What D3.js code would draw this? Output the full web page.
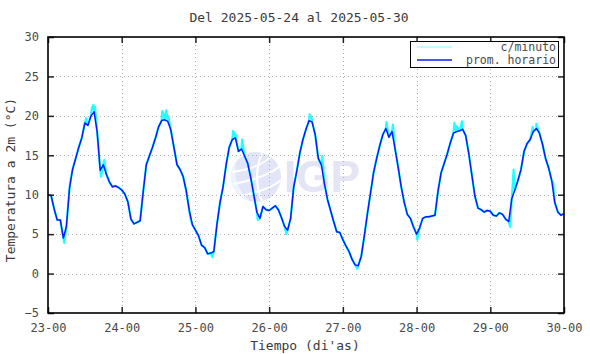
<!DOCTYPE html>
<html><head><meta charset="utf-8">
<script src="https://cdn.jsdelivr.net/npm/d3@7"></script>
<style>
html,body{margin:0;padding:0;background:#fff;}
svg text{font-family:"DejaVu Sans Mono","Liberation Mono",monospace;fill:#3a3a3a;}
</style></head>
<body><svg id="c" width="590" height="354"></svg>
<script>
const title = "Del 2025-05-24 al 2025-05-30";
const xLabel = "Tiempo (di'as)";
const yLabel = "Temperatura a 2m (°C)";
const dayLabels = ["23-00","24-00","25-00","26-00","27-00","28-00","29-00","30-00"];
const yTicks = [-5,0,5,10,15,20,25,30];
const seriesNames = ["c/minuto","prom. horario"];
// hourly average, one value per hour from 23-00 (h=0) to 30-00 (h=168)
const hourly = [
10.0,9.9,8.2,6.8,6.8,4.5,6.0,10.8,13.2,14.6,16.0,17.2,19.1,18.8,20.0,20.5,18.0,13.1,13.8,12.6,11.6,11.0,11.1,10.9,
10.6,10.1,9.1,6.9,6.3,6.5,6.7,10.4,13.8,14.9,16.0,17.2,18.6,19.4,19.5,19.3,18.2,16.0,13.8,13.2,12.3,10.5,8.0,6.2,
5.5,4.8,3.6,3.3,2.5,2.6,2.8,6.2,9.0,11.0,13.8,16.0,17.0,17.2,15.5,15.8,14.9,14.0,12.2,10.0,7.8,7.0,8.5,8.1,
8.0,8.3,8.6,8.1,7.1,6.0,5.5,7.0,11.0,13.0,15.3,17.0,18.3,19.4,19.2,17.6,14.6,13.8,11.4,9.4,8.0,6.6,5.3,5.2,
4.3,3.5,2.8,1.8,1.1,1.0,2.2,4.8,7.6,10.2,12.8,14.6,16.2,17.6,18.4,17.3,18.0,15.8,13.5,11.0,9.0,7.5,7.0,5.9,
5.0,5.8,7.0,7.2,7.2,7.3,7.4,10.5,12.8,14.0,15.2,16.6,17.8,18.0,18.1,18.3,17.5,15.2,12.5,9.8,8.3,8.1,7.8,8.0,
7.9,7.4,7.3,7.7,7.5,6.9,6.6,9.5,10.6,11.8,13.2,15.5,16.5,17.0,18.0,18.4,17.8,16.4,14.6,13.4,11.8,9.0,7.8,7.4,
7.6];
// per-minute excursions, [hour, value]
const minuteSpikes = [
[5.3,3.9],[7.4,12.0],[12.4,19.7],[14.3,21.0],[14.8,21.4],[15.3,21.1],[17.3,12.3],[18.3,14.4],
[37.2,20.6],[37.8,20.0],[38.5,20.7],[39.2,19.9],[46.5,6.8],[53.5,2.1],
[60.3,18.1],[61.1,17.6],[63.2,17.0],[68.3,6.8],[77.6,5.0],
[85.2,20.2],[85.8,19.8],[89.3,14.9],[100.6,0.6],
[110.2,19.2],[112.3,18.9],[120.2,4.3],
[132.3,19.1],[133.0,18.7],[134.8,19.3],[150.5,5.9],[151.6,13.2],
[157.8,18.6],[159.0,19.0],[164.5,11.5]
];

const W = 590, H = 354;
const m = {l:48, r:564, t:37, b:313};
const svg = d3.select("#c");
const x = d3.scaleLinear().domain([0,168]).range([m.l,m.r]);
const y = d3.scaleLinear().domain([-5,30]).range([m.b,m.t]);
const dayTicks = dayLabels.map((d,i)=>i*24);

// watermark
const wm = svg.append("g");
wm.append("circle").attr("cx",256).attr("cy",177).attr("r",25).attr("fill","#e2e5f7");
wm.append("path").attr("d","M236,162 A25,25 0 0,0 250,201 A40,40 0 0,1 236,162 Z").attr("fill","#eef4fd");
wm.append("path").attr("d","M232,172 Q262,168 272,155").attr("fill","none").attr("stroke","#fff").attr("stroke-width",2);
wm.append("path").attr("d","M233,184 Q266,178 280,166").attr("fill","none").attr("stroke","#fff").attr("stroke-width",2);
wm.append("path").attr("d","M240,196 Q270,190 281,180").attr("fill","none").attr("stroke","#fff").attr("stroke-width",2);
wm.append("path").attr("d","M262,153 Q252,177 262,201").attr("fill","none").attr("stroke","#fff").attr("stroke-width",2);
wm.append("text").attr("x",284).attr("y",192).text("IGP")
  .style("font-family","'Liberation Sans',Arial,sans-serif").style("font-weight","bold")
  .style("font-size","44px").style("fill","#e4e4f5");

// grid
const grid = svg.append("g").attr("stroke","#b0b0b0").attr("stroke-width",1).attr("stroke-dasharray","1,3");
dayTicks.slice(1,-1).forEach(t=>grid.append("line").attr("x1",Math.round(x(t))+0.5).attr("x2",Math.round(x(t))+0.5).attr("y1",m.t).attr("y2",m.b));
yTicks.slice(1,-1).forEach(t=>grid.append("line").attr("y1",Math.round(y(t))+0.5).attr("y2",Math.round(y(t))+0.5).attr("x1",m.l).attr("x2",m.r));

// series
const hourlyPts = hourly.map((v,i)=>[i,v]);
const minutePts = hourlyPts.concat(minuteSpikes).sort((a,b)=>a[0]-b[0]);
const line = d3.line().x(d=>x(d[0])).y(d=>y(d[1]));
svg.append("path").datum(minutePts).attr("d",line).attr("fill","none").attr("stroke","#22ffff").attr("stroke-width",2.2).attr("stroke-linejoin","round");
svg.append("path").datum(hourlyPts).attr("d",line).attr("fill","none").attr("stroke","#0a1aff").attr("stroke-width",1.5).attr("stroke-linejoin","round");

// axes (gnuplot style: inward ticks, mirrored)
const xb = d3.axisBottom(x).tickValues(dayTicks).tickFormat((d,i)=>dayLabels[i]).tickSizeInner(-6).tickSizeOuter(0).tickPadding(10);
const xt = d3.axisTop(x).tickValues(dayTicks).tickFormat("").tickSizeInner(-6).tickSizeOuter(0);
const yl = d3.axisLeft(y).tickValues(yTicks).tickSizeInner(-6).tickSizeOuter(0).tickPadding(9);
const yr = d3.axisRight(y).tickValues(yTicks).tickFormat("").tickSizeInner(-6).tickSizeOuter(0);
function style(g){g.select(".domain").remove();g.selectAll(".tick line").attr("stroke","#222").attr("stroke-width",1.5);
  g.selectAll("text").style("font-size","12px").style("fill","#4a4a4a").style("font-family","'DejaVu Sans Mono',monospace");}
svg.append("g").attr("transform",`translate(0,${m.b})`).call(xb).call(style);
svg.append("g").attr("transform",`translate(0,${m.t})`).call(xt).call(style);
svg.append("g").attr("transform",`translate(${m.l},0)`).call(yl).call(style);
svg.append("g").attr("transform",`translate(${m.r},0)`).call(yr).call(style);

// border
svg.append("rect").attr("x",m.l).attr("y",m.t).attr("width",m.r-m.l).attr("height",m.b-m.t)
  .attr("fill","none").attr("stroke","#000").attr("stroke-width",1.6);

// titles
svg.append("text").attr("x",299).attr("y",22).attr("text-anchor","middle").style("font-size","13px").text(title);
svg.append("text").attr("x",305).attr("y",350).attr("text-anchor","middle").style("font-size","13px").text(xLabel);
svg.append("text").attr("transform","translate(15,180) rotate(-90)").attr("text-anchor","middle").style("font-size","13px").text(yLabel);

// legend
const lg = svg.append("g");
lg.append("rect").attr("x",410.5).attr("y",41.5).attr("width",148).attr("height",26).attr("fill","#fff").attr("stroke","#000").attr("stroke-width",1);
const lcols = ["#aaffff","#0a1aff"];
seriesNames.forEach((n,i)=>{
  const yy = 47+i*13;
  lg.append("line").attr("x1",417).attr("x2",452).attr("y1",yy).attr("y2",yy).attr("stroke",lcols[i]).attr("stroke-width",1.5);
  lg.append("text").attr("x",556).attr("y",yy+3.5).attr("text-anchor","end").style("font-size","11.5px").style("fill","#4a4a4a").text(n);
});
</script></body></html>
